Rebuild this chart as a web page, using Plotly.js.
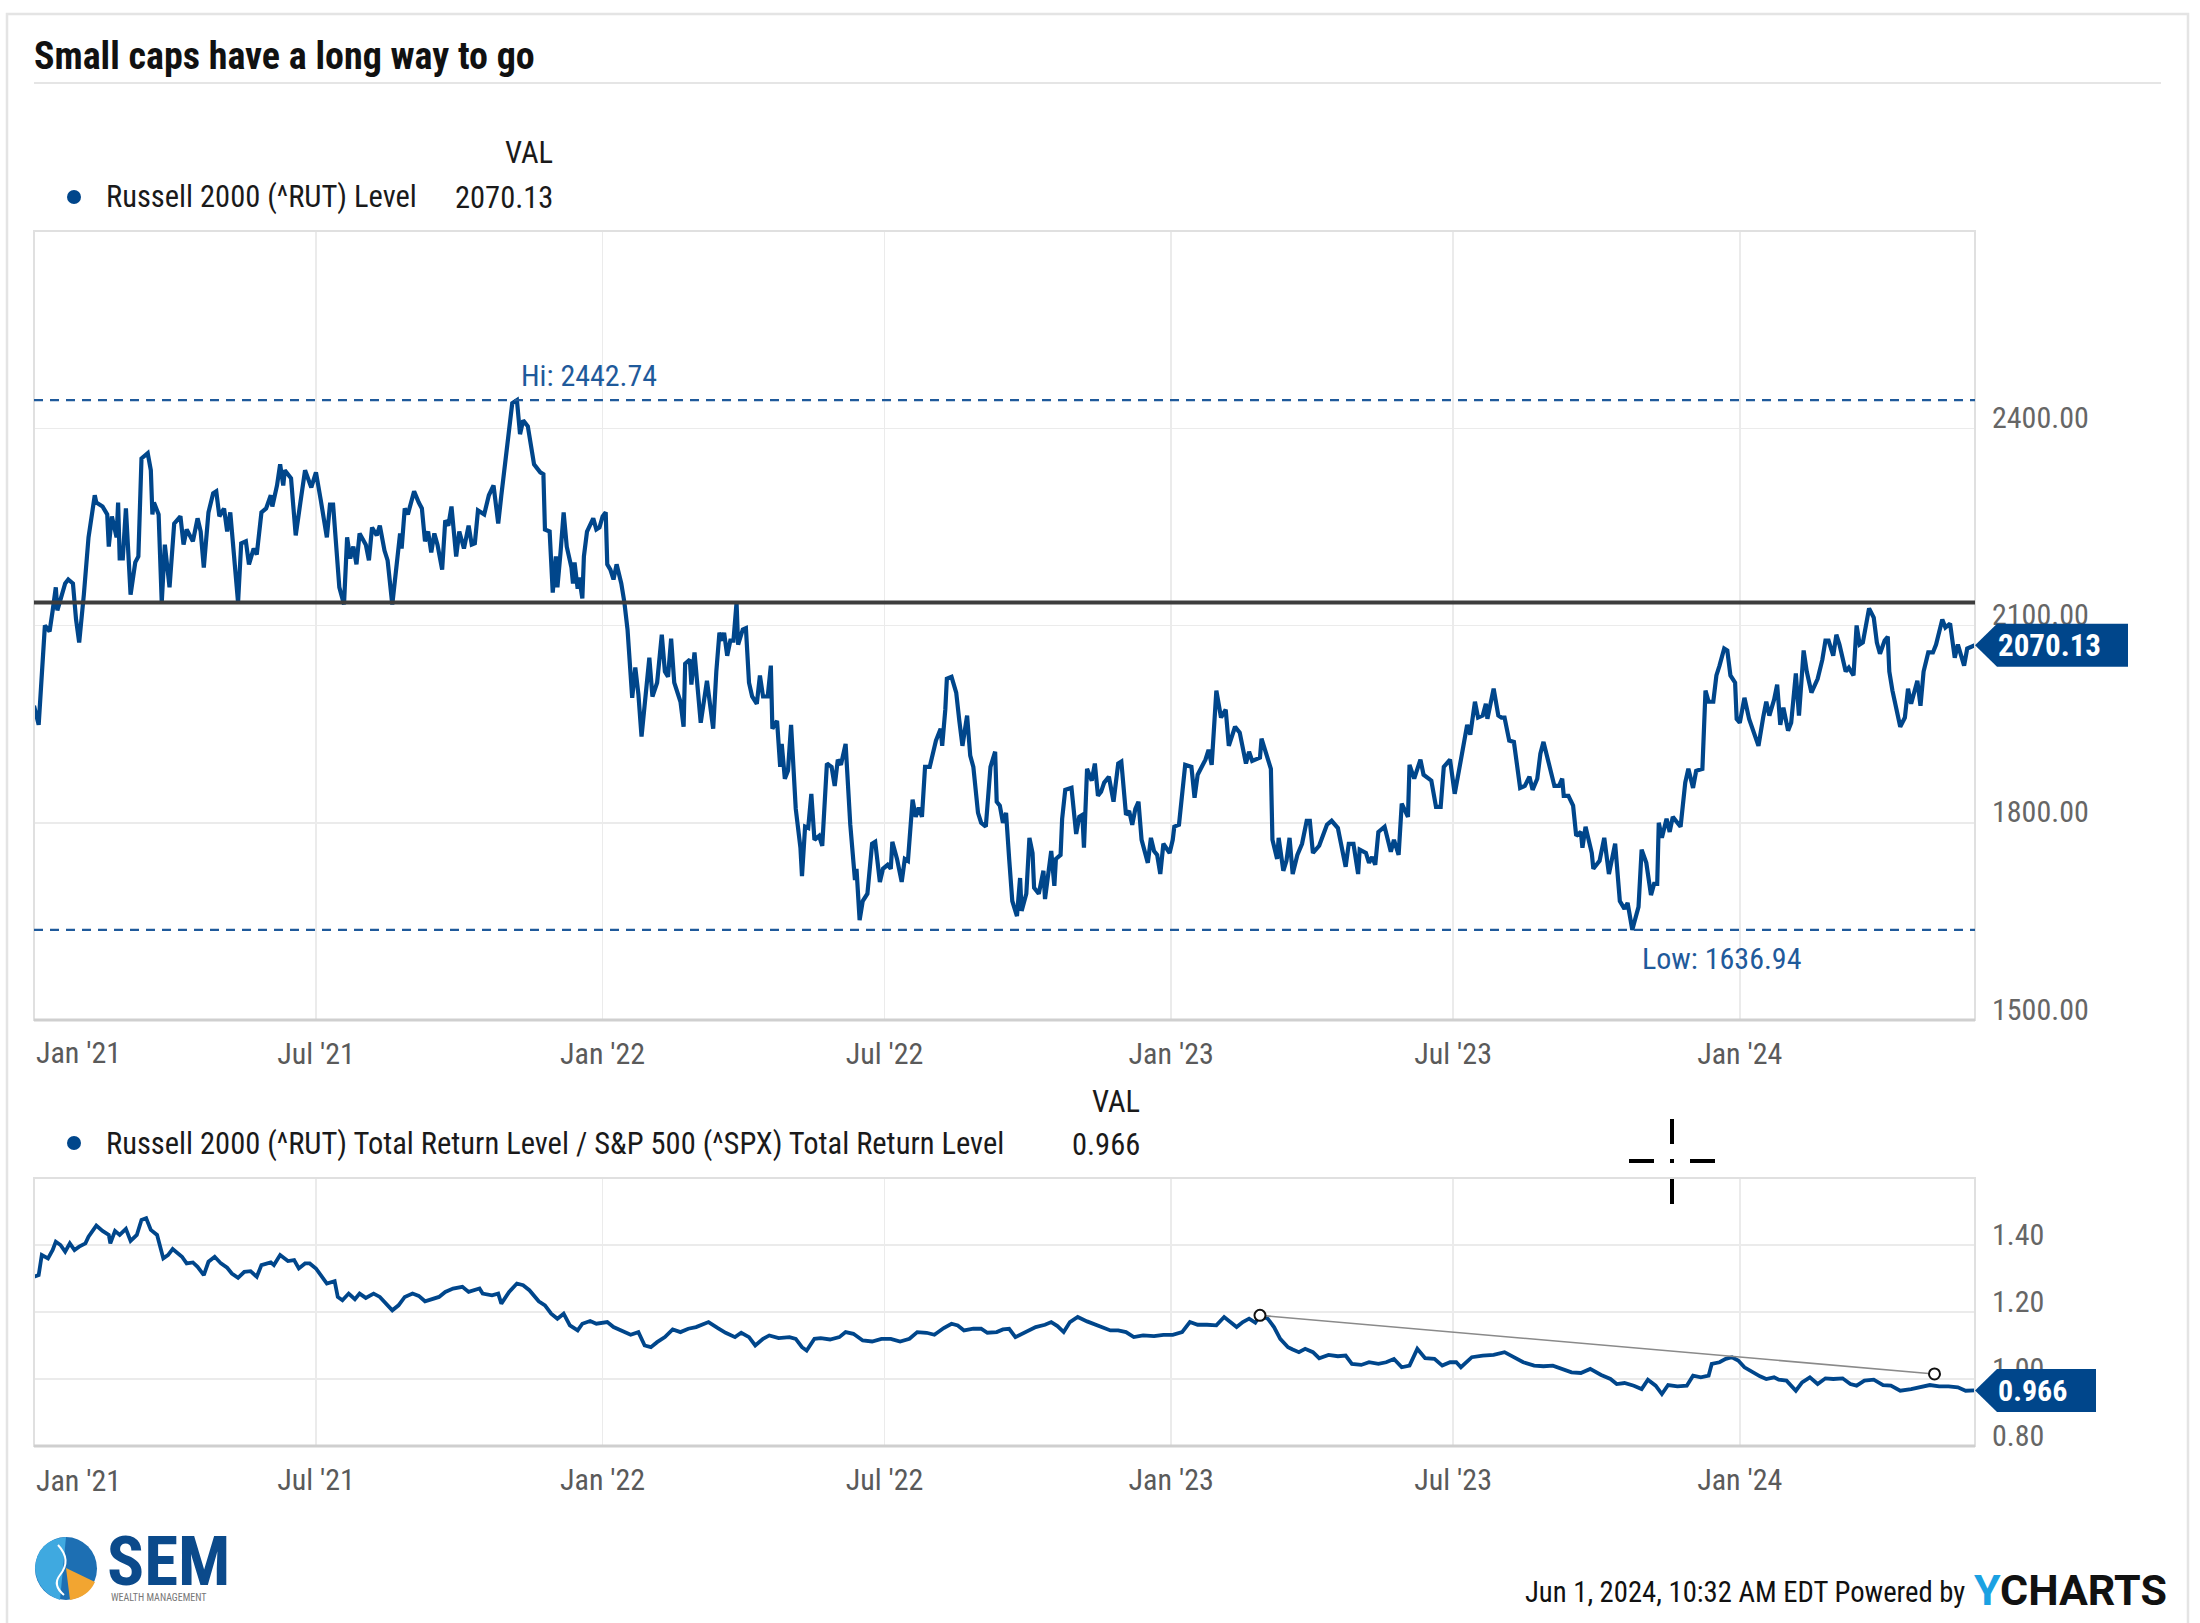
<!DOCTYPE html>
<html><head><meta charset="utf-8">
<script src="https://cdn.plot.ly/plotly-3.0.1.min.js"></script>
<style>html,body{margin:0;padding:0;background:#fff;}#chart{width:2200px;height:1623px;}</style>
</head><body><div id="chart"></div>
<script>
// ---------- DATA ----------
const rutDates = [
"2021-01-01","2021-01-04","2021-01-08","2021-01-11","2021-01-13","2021-01-15","2021-01-16","2021-01-19","2021-01-21","2021-01-23","2021-01-26","2021-01-28","2021-01-30",
"2021-02-02","2021-02-05","2021-02-09","2021-02-10","2021-02-14","2021-02-17","2021-02-18","2021-02-20","2021-02-23","2021-02-24","2021-02-25","2021-02-27",
"2021-03-01","2021-03-04","2021-03-07","2021-03-09","2021-03-11","2021-03-15","2021-03-17","2021-03-18","2021-03-19","2021-03-22","2021-03-24","2021-03-26","2021-03-29",
"2021-04-01","2021-04-05","2021-04-07","2021-04-09","2021-04-13","2021-04-16","2021-04-18","2021-04-20","2021-04-23","2021-04-26","2021-04-28","2021-04-30",
"2021-05-03","2021-05-05","2021-05-07","2021-05-12","2021-05-14","2021-05-17","2021-05-19","2021-05-22","2021-05-24","2021-05-27","2021-05-30",
"2021-06-02","2021-06-03","2021-06-06","2021-06-08","2021-06-10","2021-06-11","2021-06-15","2021-06-18","2021-06-21","2021-06-24","2021-06-28",
"2021-07-01","2021-07-04","2021-07-08","2021-07-10","2021-07-12","2021-07-16","2021-07-19","2021-07-21","2021-07-23","2021-07-25","2021-07-27","2021-07-29",
"2021-08-02","2021-08-04","2021-08-06","2021-08-09","2021-08-11","2021-08-14","2021-08-16","2021-08-19","2021-08-22","2021-08-24","2021-08-25","2021-08-27","2021-08-29",
"2021-09-02","2021-09-05","2021-09-07","2021-09-09","2021-09-11","2021-09-13","2021-09-15","2021-09-17","2021-09-20","2021-09-22","2021-09-24","2021-09-26","2021-09-29",
"2021-10-01","2021-10-04","2021-10-07","2021-10-09","2021-10-11","2021-10-13","2021-10-17","2021-10-20","2021-10-23","2021-10-26","2021-10-28","2021-10-31",
"2021-11-02","2021-11-04","2021-11-07","2021-11-09","2021-11-11","2021-11-14","2021-11-18","2021-11-22","2021-11-24","2021-11-25","2021-11-28","2021-11-30",
"2021-12-02","2021-12-03","2021-12-05","2021-12-07","2021-12-09","2021-12-12","2021-12-13","2021-12-14","2021-12-16","2021-12-17","2021-12-19","2021-12-20","2021-12-22","2021-12-24","2021-12-26","2021-12-28","2021-12-30",
"2022-01-01","2022-01-03","2022-01-04","2022-01-06","2022-01-08","2022-01-10","2022-01-13","2022-01-15","2022-01-17","2022-01-20","2022-01-22","2022-01-24","2022-01-26","2022-01-28","2022-01-31",
"2022-02-02","2022-02-05","2022-02-08","2022-02-10","2022-02-12","2022-02-14","2022-02-16","2022-02-20","2022-02-22","2022-02-23","2022-02-26","2022-02-27",
"2022-03-01","2022-03-03","2022-03-05","2022-03-09","2022-03-11","2022-03-13","2022-03-15","2022-03-17","2022-03-19","2022-03-20","2022-03-22","2022-03-24","2022-03-26","2022-03-28","2022-03-29",
"2022-04-01","2022-04-03","2022-04-05","2022-04-07","2022-04-10","2022-04-12","2022-04-14","2022-04-17","2022-04-19","2022-04-20","2022-04-23","2022-04-25","2022-04-26","2022-04-28","2022-04-30",
"2022-05-02","2022-05-05","2022-05-08","2022-05-09","2022-05-11","2022-05-13","2022-05-15","2022-05-17","2022-05-20","2022-05-22","2022-05-25","2022-05-28","2022-05-30",
"2022-06-01","2022-06-03","2022-06-06","2022-06-09","2022-06-12","2022-06-13","2022-06-15","2022-06-17","2022-06-20","2022-06-23","2022-06-25","2022-06-28","2022-06-30",
"2022-07-03","2022-07-05","2022-07-06","2022-07-09","2022-07-12","2022-07-14","2022-07-16","2022-07-19","2022-07-21","2022-07-23","2022-07-25","2022-07-27","2022-07-30",
"2022-08-01","2022-08-03","2022-08-06","2022-08-07","2022-08-09","2022-08-10","2022-08-13","2022-08-16","2022-08-18","2022-08-20","2022-08-23","2022-08-25","2022-08-27","2022-08-30",
"2022-09-01","2022-09-04","2022-09-07","2022-09-10","2022-09-11","2022-09-13","2022-09-15","2022-09-17","2022-09-19","2022-09-21","2022-09-24","2022-09-26","2022-09-27","2022-09-30",
"2022-10-02","2022-10-04","2022-10-05","2022-10-08","2022-10-11","2022-10-12","2022-10-16","2022-10-18","2022-10-19","2022-10-22","2022-10-23","2022-10-25","2022-10-29",
"2022-11-01","2022-11-03","2022-11-05","2022-11-06","2022-11-08","2022-11-11","2022-11-13","2022-11-15","2022-11-17","2022-11-19","2022-11-22","2022-11-25","2022-11-28","2022-11-30",
"2022-12-03","2022-12-05","2022-12-07","2022-12-09","2022-12-11","2022-12-13","2022-12-17","2022-12-19","2022-12-21","2022-12-23","2022-12-25","2022-12-27","2022-12-31",
"2023-01-02","2023-01-03","2023-01-06","2023-01-10","2023-01-14","2023-01-16","2023-01-18","2023-01-21","2023-01-23","2023-01-25","2023-01-27","2023-01-30",
"2023-02-02","2023-02-05","2023-02-07","2023-02-11","2023-02-14","2023-02-18","2023-02-20","2023-02-22","2023-02-27","2023-02-28",
"2023-03-04","2023-03-06","2023-03-07","2023-03-10","2023-03-11","2023-03-14","2023-03-16","2023-03-18","2023-03-20","2023-03-23","2023-03-26","2023-03-29","2023-03-31",
"2023-04-02","2023-04-06","2023-04-09","2023-04-11","2023-04-14","2023-04-18","2023-04-23","2023-04-25","2023-04-28",
"2023-05-01","2023-05-02","2023-05-06","2023-05-08","2023-05-10","2023-05-12","2023-05-14","2023-05-18","2023-05-22","2023-05-24","2023-05-27","2023-05-29",
"2023-06-02","2023-06-03","2023-06-06","2023-06-10","2023-06-12","2023-06-17","2023-06-20","2023-06-23","2023-06-25","2023-06-29",
"2023-07-02","2023-07-06","2023-07-10","2023-07-12","2023-07-15","2023-07-17","2023-07-20","2023-07-22","2023-07-23","2023-07-27","2023-07-30",
"2023-08-01","2023-08-03","2023-08-06","2023-08-09","2023-08-13","2023-08-16","2023-08-19","2023-08-21","2023-08-24","2023-08-26","2023-08-28","2023-08-31",
"2023-09-04","2023-09-07","2023-09-09","2023-09-10","2023-09-13","2023-09-16","2023-09-18","2023-09-21","2023-09-22","2023-09-24","2023-09-28","2023-09-29",
"2023-10-03","2023-10-06","2023-10-09","2023-10-11","2023-10-13","2023-10-16","2023-10-19","2023-10-21","2023-10-24","2023-10-25","2023-10-28","2023-10-30",
"2023-11-02","2023-11-05","2023-11-07","2023-11-09","2023-11-10","2023-11-12","2023-11-15","2023-11-17","2023-11-19","2023-11-24","2023-11-27","2023-11-29",
"2023-12-02","2023-12-04","2023-12-08","2023-12-10","2023-12-12","2023-12-15","2023-12-17","2023-12-19","2023-12-22","2023-12-24","2023-12-26","2023-12-29","2023-12-30",
"2024-01-01","2024-01-04","2024-01-07","2024-01-11","2024-01-13","2024-01-16","2024-01-18","2024-01-20","2024-01-23","2024-01-25","2024-01-27","2024-01-29",
"2024-02-01","2024-02-03","2024-02-06","2024-02-08","2024-02-11","2024-02-13","2024-02-16","2024-02-20","2024-02-23","2024-02-25","2024-02-27",
"2024-03-01","2024-03-03","2024-03-05","2024-03-09","2024-03-11","2024-03-14","2024-03-16","2024-03-18","2024-03-20","2024-03-24","2024-03-27","2024-03-29","2024-03-31",
"2024-04-03","2024-04-05","2024-04-06","2024-04-08","2024-04-11","2024-04-13","2024-04-16","2024-04-18","2024-04-20","2024-04-24","2024-04-26","2024-04-28",
"2024-05-01","2024-05-04","2024-05-06","2024-05-10","2024-05-12","2024-05-15","2024-05-18","2024-05-20","2024-05-24","2024-05-26","2024-05-31"
];
const rutLevels = [
1978,1949,2100,2091,2123,2158,2123,2147,2164,2170,2164,2109,2074,
2147,2234,2298,2287,2281,2269,2220,2266,2234,2287,2202,2202,
2278,2147,2196,2205,2354,2362,2336,2269,2287,2269,2135,2223,2158,
2255,2266,2223,2246,2228,2263,2243,2188,2272,2301,2304,2266,
2278,2243,2272,2135,2225,2228,2193,2217,2208,2272,2278,
2298,2281,2313,2345,2313,2336,2324,2237,2287,2336,2310,
2333,2292,2234,2284,2284,2158,2132,2234,2202,2220,2193,2240,
2223,2199,2249,2237,2252,2214,2199,2132,2199,2240,2217,2278,2269,
2304,2287,2278,2228,2243,2211,2240,2223,2185,2260,2252,2281,2205,
2243,2217,2252,2223,2225,2275,2269,2298,2313,2255,2298,2362,
2406,2438,2442.74,2391,2412,2403,2345,2333,2330,2246,2243,2150,
2205,2158,2211,2272,2220,2188,2164,2196,2156,2173,2141,2205,2243,2255,2263,2246,2249,
2266,2272,2193,2185,2170,2193,2164,2135,2094,1990,2036,1995,1931,1984,2051,
1992,2013,2086,2030,2022,2080,2013,1984,1946,2042,2048,2010,
2059,2010,1952,2016,1984,1943,2030,2089,2077,2089,2054,2077,2077,2135,2071,
2094,2096,2013,1992,1981,2024,1992,1992,2039,1943,1955,1885,1920,1867,1879,
1949,1821,1762,1719,1794,1792,1844,1774,1780,1765,1890,1885,1856,
1896,1888,1920,1797,1713,1730,1652,1681,1692,1768,1771,1710,1730,
1736,1730,1771,1745,1710,1745,1742,1835,1809,1823,1809,1885,1885,
1908,1925,1943,1917,1972,2019,2022,1998,1955,1917,1963,1902,1885,1815,
1800,1794,1885,1908,1832,1826,1800,1815,1745,1681,1658,1716,1666,1692,
1777,1754,1701,1692,1727,1684,1757,1704,1745,1751,1806,1850,1853,
1783,1809,1812,1762,1882,1864,1890,1841,1847,1861,1870,1832,1890,1893,
1812,1818,1797,1821,1832,1774,1739,1777,1757,1751,1722,1768,1754,
1774,1794,1797,1888,1885,1838,1873,1888,1896,1911,1888,2001,
1960,1972,1917,1946,1937,1890,1908,1894,1899,1928,
1899,1882,1774,1745,1777,1727,1742,1777,1722,1751,1768,1803,1803,
1754,1765,1783,1797,1803,1792,1733,1768,1768,
1722,1759,1754,1739,1748,1736,1786,1794,1756,1774,1751,1829,
1809,1888,1867,1896,1873,1864,1824,1824,1885,1896,
1844,1896,1949,1934,1984,1960,1963,1981,1958,2004,1963,
1960,1960,1925,1923,1853,1856,1870,1850,1867,1905,1923,1893,
1856,1856,1867,1841,1841,1826,1780,1786,1762,1794,1754,1730,
1742,1777,1722,1745,1768,1681,1669,1678,1636.94,1646,1672,1759,
1739,1690,1707,1707,1800,1777,1806,1786,1809,1794,1861,1882,
1853,1879,1882,2001,1984,1984,2024,2039,2065,2062,2024,2013,1958,
1952,1990,1958,1928,1917,1960,1984,1963,1987,2010,1949,1975,
1940,1952,2027,1963,2062,2030,1998,2019,2048,2077,2077,
2054,2086,2071,2030,2036,2024,2100,2071,2074,2126,2112,2074,2057,
2077,2083,2030,2001,1972,1946,1960,2004,1981,2016,1978,2030,
2059,2059,2071,2109,2097,2103,2051,2071,2039,2065,2070.13
];
const ratioDates = [
"2021-01-01","2021-01-04","2021-01-06","2021-01-10","2021-01-13","2021-01-15","2021-01-18","2021-01-21","2021-01-24","2021-01-27","2021-01-30",
"2021-02-03","2021-02-05","2021-02-10","2021-02-14","2021-02-18","2021-02-19","2021-02-22","2021-02-25",
"2021-03-01","2021-03-04","2021-03-08","2021-03-11","2021-03-14","2021-03-17","2021-03-21","2021-03-25","2021-03-28","2021-03-31",
"2021-04-03","2021-04-06","2021-04-09","2021-04-13","2021-04-16","2021-04-20","2021-04-23","2021-04-27",
"2021-05-01","2021-05-05","2021-05-08","2021-05-12","2021-05-16","2021-05-20","2021-05-24","2021-05-27",
"2021-06-02","2021-06-04","2021-06-08","2021-06-13","2021-06-17","2021-06-20","2021-06-24","2021-06-27",
"2021-07-01","2021-07-04","2021-07-08","2021-07-13","2021-07-15","2021-07-18","2021-07-22","2021-07-26","2021-07-29",
"2021-08-02","2021-08-07","2021-08-11","2021-08-15","2021-08-19","2021-08-23","2021-08-27",
"2021-09-01","2021-09-05","2021-09-09","2021-09-14","2021-09-18","2021-09-22","2021-09-27",
"2021-10-03","2021-10-07","2021-10-14","2021-10-16","2021-10-22","2021-10-26","2021-10-28",
"2021-11-02","2021-11-07","2021-11-11","2021-11-15","2021-11-21","2021-11-25","2021-11-29",
"2021-12-03","2021-12-07","2021-12-11","2021-12-16","2021-12-19","2021-12-24","2021-12-28",
"2022-01-04","2022-01-08","2022-01-13","2022-01-19","2022-01-24","2022-01-28",
"2022-02-01","2022-02-05","2022-02-10","2022-02-15","2022-02-20","2022-02-25",
"2022-03-02","2022-03-07","2022-03-10","2022-03-16","2022-03-21","2022-03-27","2022-03-31",
"2022-04-05","2022-04-09","2022-04-14","2022-04-18","2022-04-24",
"2022-05-01","2022-05-05","2022-05-09","2022-05-12","2022-05-17","2022-05-21","2022-05-27",
"2022-06-02","2022-06-06","2022-06-11","2022-06-17","2022-06-23","2022-06-29",
"2022-07-05","2022-07-11","2022-07-17","2022-07-22","2022-07-28",
"2022-08-02","2022-08-08","2022-08-13","2022-08-17","2022-08-21","2022-08-27",
"2022-09-01","2022-09-05","2022-09-11","2022-09-15","2022-09-19","2022-09-23","2022-09-27",
"2022-10-03","2022-10-06","2022-10-12","2022-10-16","2022-10-20","2022-10-24","2022-10-28",
"2022-11-02","2022-11-08","2022-11-13","2022-11-18","2022-11-23","2022-11-28",
"2022-12-03","2022-12-08","2022-12-14","2022-12-21","2022-12-27",
"2023-01-02","2023-01-08","2023-01-13","2023-01-18","2023-01-24","2023-01-30",
"2023-02-04","2023-02-08","2023-02-12","2023-02-16","2023-02-20","2023-02-24","2023-02-27",
"2023-03-04","2023-03-08","2023-03-12","2023-03-17","2023-03-20","2023-03-24","2023-03-28",
"2023-04-02","2023-04-06","2023-04-12","2023-04-18","2023-04-23","2023-04-27",
"2023-05-03","2023-05-08","2023-05-14","2023-05-19","2023-05-24","2023-05-29",
"2023-06-03","2023-06-08","2023-06-13","2023-06-19","2023-06-24","2023-06-29",
"2023-07-03","2023-07-06","2023-07-13","2023-07-20","2023-07-27",
"2023-08-03","2023-08-09","2023-08-15","2023-08-22","2023-08-28",
"2023-09-03","2023-09-09","2023-09-15","2023-09-21","2023-09-27",
"2023-10-04","2023-10-10","2023-10-14","2023-10-19","2023-10-25","2023-10-30",
"2023-11-03","2023-11-08","2023-11-12","2023-11-16","2023-11-22","2023-11-28",
"2023-12-02","2023-12-07","2023-12-12","2023-12-14","2023-12-19","2023-12-23","2023-12-27","2023-12-31",
"2024-01-04","2024-01-09","2024-01-14","2024-01-18","2024-01-23","2024-01-26","2024-01-31",
"2024-02-06","2024-02-10","2024-02-15","2024-02-20","2024-02-25",
"2024-03-01","2024-03-07","2024-03-12","2024-03-16","2024-03-21","2024-03-27",
"2024-04-02","2024-04-07","2024-04-13","2024-04-20","2024-04-26",
"2024-05-02","2024-05-08","2024-05-14","2024-05-20","2024-05-25","2024-05-31"
];
const ratioValues = [
1.305,1.310,1.370,1.360,1.385,1.410,1.400,1.380,1.405,1.385,1.395,
1.405,1.425,1.458,1.442,1.430,1.405,1.442,1.430,
1.448,1.412,1.430,1.475,1.480,1.445,1.430,1.360,1.370,1.388,
1.378,1.365,1.345,1.348,1.335,1.310,1.350,1.365,
1.345,1.332,1.315,1.302,1.320,1.322,1.305,1.340,
1.348,1.340,1.370,1.352,1.355,1.330,1.345,1.345,
1.330,1.310,1.285,1.292,1.245,1.235,1.255,1.238,1.255,
1.242,1.255,1.245,1.225,1.205,1.220,1.245,
1.255,1.248,1.232,1.240,1.245,1.260,1.270,
1.275,1.260,1.270,1.255,1.250,1.255,1.225,
1.260,1.285,1.280,1.265,1.232,1.220,1.195,
1.180,1.195,1.160,1.145,1.165,1.173,1.165,
1.170,1.155,1.145,1.132,1.140,1.100,
1.095,1.110,1.125,1.148,1.140,1.150,
1.155,1.165,1.170,1.152,1.138,1.125,1.138,
1.125,1.100,1.120,1.130,1.122,
1.125,1.120,1.095,1.085,1.120,1.122,1.118,
1.125,1.140,1.135,1.115,1.112,1.120,
1.120,1.112,1.120,1.140,1.138,
1.132,1.152,1.165,1.160,1.145,1.150,
1.150,1.138,1.140,1.148,1.150,1.125,1.135,
1.150,1.155,1.162,1.170,1.158,1.140,1.170,
1.185,1.172,1.162,1.152,1.145,1.145,
1.140,1.125,1.130,1.128,1.132,
1.132,1.140,1.170,1.162,1.162,1.160,
1.185,1.170,1.155,1.170,1.180,1.168,1.190,
1.180,1.155,1.120,1.095,1.088,1.080,1.090,
1.080,1.062,1.072,1.068,1.070,1.045,
1.042,1.050,1.045,1.050,1.060,1.035,
1.040,1.090,1.062,1.060,1.040,1.050,
1.050,1.035,1.065,1.070,1.072,
1.080,1.065,1.050,1.040,1.038,
1.040,1.030,1.020,1.018,1.030,
1.012,1.000,0.985,0.988,0.980,0.970,
0.998,0.980,0.955,0.982,0.978,0.980,
1.010,1.005,1.010,1.045,1.050,1.060,1.065,1.055,
1.035,1.020,1.008,1.000,1.005,0.998,0.995,
0.965,0.990,1.005,0.985,1.002,
1.000,1.002,0.985,0.980,0.995,0.998,
0.982,0.980,0.965,0.970,0.975,
0.982,0.978,0.978,0.975,0.965,0.966
];
const trendDates = ["2023-02-27","2024-05-05"];
const trendValues = [1.190, 1.015];
const supportLevel = 2135;
const xRange = ["2021-01-01","2024-05-31"];
const gridDates = ["2021-07-01","2022-01-01","2022-07-01","2023-01-01","2023-07-01","2024-01-01"];
const gridLabels = ["Jul '21","Jan '22","Jul '22","Jan '23","Jul '23","Jan '24"];
const firstTickDate = "2021-01-01";
const firstTickLabel = "Jan '21";
const topTicks = [1500,1800,2100,2400];
const topRange = [1500,2700];
const bottomTicks = [0.8,1.0,1.2,1.4];
const bottomRange = [0.8,1.6];
const titleText = "Small caps have a long way to go";
const topSeriesName = "Russell 2000 (^RUT) Level";
const bottomSeriesName = "Russell 2000 (^RUT) Total Return Level / S&P 500 (^SPX) Total Return Level";
const footerText = "Jun 1, 2024, 10:32 AM EDT Powered by";

// ---------- STYLE / LAYOUT ----------
const W = 2200, H = 1623;
const px = x => x / W, py = y => 1 - y / H;
const FONT = "'Roboto Condensed', 'Liberation Sans Narrow', 'DejaVu Sans Condensed', Roboto, sans-serif";
const BLUE = "#00468b", DASHBLUE = "#1f5a9b", GRID = "#ebebeb", TICKC = "#5a5a5a";
const PLOT_L = 34, PLOT_R = 1975;

let hiIdx = 0, loIdx = 0;
rutLevels.forEach((v, i) => { if (v > rutLevels[hiIdx]) hiIdx = i; if (v < rutLevels[loIdx]) loIdx = i; });
const hiVal = rutLevels[hiIdx], loVal = rutLevels[loIdx];
const lastRut = rutLevels[rutLevels.length - 1];
const lastRatio = ratioValues[ratioValues.length - 1];

const traces = [
  {x: rutDates, y: rutLevels, type: 'scatter', mode: 'lines', xaxis: 'x', yaxis: 'y',
   line: {color: BLUE, width: 4.2}, hoverinfo: 'skip'},
  {x: ratioDates, y: ratioValues, type: 'scatter', mode: 'lines', xaxis: 'x2', yaxis: 'y2',
   line: {color: BLUE, width: 3.8}, hoverinfo: 'skip'},
  {x: trendDates, y: trendValues, type: 'scatter', mode: 'lines+markers', xaxis: 'x2', yaxis: 'y2',
   line: {color: '#8a8a8a', width: 1.6},
   marker: {symbol: 'circle', size: 11, color: '#ffffff', line: {color: '#111', width: 2}}, hoverinfo: 'skip'}
];

const xCommon = {
  type: 'date', range: xRange, domain: [px(PLOT_L), px(PLOT_R)],
  tickvals: gridDates, ticktext: gridLabels, showgrid: true, gridcolor: GRID, gridwidth: 1.5,
  zeroline: false, showline: false, ticks: '', tickfont: {family: FONT, size: 30, color: TICKC},
  ticklabelstandoff: 13, fixedrange: true
};
const yCommon = {
  side: 'right', showgrid: true, gridcolor: GRID, gridwidth: 1.5, zeroline: false, showline: false,
  ticks: '', tickformat: '.2f', tickfont: {family: FONT, size: 30, color: '#666'},
  ticklabelstandoff: 16, ticklabelshift: -11, fixedrange: true
};

function border(xr, yr) {
  return [
    {type: 'rect', xref: xr + ' domain', yref: yr + ' domain', x0: 0, x1: 1, y0: 0, y1: 1,
     line: {color: '#e0e0e0', width: 2}, layer: 'above'},
    {type: 'line', xref: xr + ' domain', yref: yr + ' domain', x0: 0, x1: 1, y0: 0, y1: 0,
     line: {color: '#cfcfcf', width: 3}, layer: 'above'}
  ];
}

function badge(xr, yr, yv, w) {
  return {type: 'path', xref: xr + ' domain', yref: yr, xsizemode: 'pixel', ysizemode: 'pixel',
    xanchor: 1, yanchor: yv, layer: 'above',
    path: `M0,0 L22,21.5 L${w},21.5 L${w},-21.5 L22,-21.5 Z`,
    fillcolor: BLUE, line: {width: 0}};
}

const CX = 1672, CY = 1161;
const shapes = [
  {type: 'rect', xref: 'paper', yref: 'paper', x0: px(7), x1: px(2188), y0: py(1680), y1: py(14),
   line: {color: '#e4e4e4', width: 2.5}},
  {type: 'line', xref: 'paper', yref: 'paper', x0: px(34), x1: px(2161), y0: py(83), y1: py(83),
   line: {color: '#dcdcdc', width: 1.5}},
  ...border('x', 'y'), ...border('x2', 'y2'),
  {type: 'line', xref: 'x domain', yref: 'y', x0: 0, x1: 1, y0: hiVal, y1: hiVal,
   line: {color: DASHBLUE, width: 2.2, dash: '9px,7px'}},
  {type: 'line', xref: 'x domain', yref: 'y', x0: 0, x1: 1, y0: loVal, y1: loVal,
   line: {color: DASHBLUE, width: 2.2, dash: '9px,7px'}},
  {type: 'line', xref: 'x domain', yref: 'y', x0: 0, x1: 1, y0: supportLevel, y1: supportLevel,
   line: {color: '#3d3d3d', width: 4}},
  badge('x', 'y', lastRut, 153),
  badge('x2', 'y2', lastRatio, 121),
  {type: 'circle', xref: 'paper', yref: 'paper', x0: px(67), x1: px(81), y0: py(204), y1: py(190),
   fillcolor: BLUE, line: {width: 0}},
  {type: 'circle', xref: 'paper', yref: 'paper', x0: px(67), x1: px(81), y0: py(1150), y1: py(1136),
   fillcolor: BLUE, line: {width: 0}},
  // cursor crosshair
  {type: 'line', xref: 'paper', yref: 'paper', x0: px(CX), x1: px(CX), y0: py(CY - 42), y1: py(CY - 17), line: {color: '#000', width: 4}},
  {type: 'line', xref: 'paper', yref: 'paper', x0: px(CX), x1: px(CX), y0: py(CY + 18), y1: py(CY + 43), line: {color: '#000', width: 4}},
  {type: 'line', xref: 'paper', yref: 'paper', x0: px(CX - 43), x1: px(CX - 18), y0: py(CY), y1: py(CY), line: {color: '#000', width: 4}},
  {type: 'line', xref: 'paper', yref: 'paper', x0: px(CX + 18), x1: px(CX + 43), y0: py(CY), y1: py(CY), line: {color: '#000', width: 4}},
  {type: 'line', xref: 'paper', yref: 'paper', x0: px(CX - 2), x1: px(CX + 2), y0: py(CY), y1: py(CY), line: {color: '#000', width: 4}},
  // SEM logo
  {type: 'circle', xref: 'paper', yref: 'paper', x0: px(35), x1: px(97), y0: py(1600), y1: py(1537),
   fillcolor: '#1d6fb3', line: {width: 0}},
  {type: 'path', xref: 'paper', yref: 'paper',
   path: `M${px(66)},${py(1568)} L${px(95)},${py(1582)} Q${px(88)},${py(1597)} ${px(70)},${py(1600)} Z`,
   fillcolor: '#f2a531', line: {width: 0}},
  {type: 'path', xref: 'paper', yref: 'paper',
   path: `M${px(35)},${py(1568)} Q${px(37)},${py(1540)} ${px(66)},${py(1537)} L${px(60)},${py(1600)} Q${px(37)},${py(1592)} ${px(35)},${py(1568)} Z`,
   fillcolor: '#3fa9e0', line: {width: 0}},
  {type: 'path', xref: 'paper', yref: 'paper',
   path: `M${px(58)},${py(1545)} Q${px(72)},${py(1560)} ${px(60)},${py(1575)} Q${px(52)},${py(1585)} ${px(64)},${py(1595)}`,
   line: {color: '#ffffff', width: 2}}
];

const txt = (text, x, y, opt = {}) => Object.assign({
  text, xref: 'paper', yref: 'paper', x: px(x), y: py(y), showarrow: false,
  xanchor: 'left', yanchor: 'middle', font: {family: FONT, size: 30.5, color: '#1a1a1a'}
}, opt);

const annotations = [
  txt(`<b>${titleText}</b>`, 32, 56, {font: {family: FONT, size: 38, color: '#111'}}),
  txt('VAL', 555, 153, {xanchor: 'right'}),
  txt(topSeriesName, 104, 197),
  txt(lastRut.toFixed(2), 555, 197, {xanchor: 'right'}),
  txt('VAL', 1142, 1101, {xanchor: 'right'}),
  txt(bottomSeriesName, 104, 1144),
  txt(lastRatio.toFixed(3), 1142, 1144, {xanchor: 'right'}),
  {text: firstTickLabel, xref: 'x', yref: 'paper', x: firstTickDate, y: py(1052), showarrow: false,
   xanchor: 'left', yanchor: 'middle', font: {family: FONT, size: 30, color: TICKC}},
  {text: firstTickLabel, xref: 'x2', yref: 'paper', x: firstTickDate, y: py(1480), showarrow: false,
   xanchor: 'left', yanchor: 'middle', font: {family: FONT, size: 30, color: TICKC}},
  {text: `Hi: ${hiVal.toFixed(2)}`, xref: 'x', yref: 'y', x: rutDates[hiIdx], y: hiVal, showarrow: false,
   xanchor: 'left', yanchor: 'bottom', xshift: 2, yshift: 5, font: {family: FONT, size: 30, color: DASHBLUE}},
  {text: `Low: ${loVal.toFixed(2)}`, xref: 'x', yref: 'y', x: rutDates[loIdx], y: loVal, showarrow: false,
   xanchor: 'left', yanchor: 'top', xshift: 8, yshift: -9, font: {family: FONT, size: 30, color: DASHBLUE}},
  {text: `<b>${lastRut.toFixed(2)}</b>`, xref: 'x domain', yref: 'y', x: 1, y: lastRut, showarrow: false,
   xanchor: 'left', yanchor: 'middle', xshift: 21, font: {family: FONT, size: 31, color: '#fff'}},
  {text: `<b>${lastRatio.toFixed(3)}</b>`, xref: 'x2 domain', yref: 'y2', x: 1, y: lastRatio, showarrow: false,
   xanchor: 'left', yanchor: 'middle', xshift: 21, font: {family: FONT, size: 30, color: '#fff'}},
  txt('<b>SEM</b>', 105, 1561, {font: {family: FONT, size: 69, color: '#0b4a8b'}}),
  txt('WEALTH MANAGEMENT', 109, 1597, {font: {family: FONT, size: 10, color: '#777'}}),
  txt(footerText, 1967, 1592, {xanchor: 'right', font: {family: FONT, size: 28.7, color: '#111'}}),
  txt('<b><span style="color:#1ba1e2">Y</span>CHARTS</b>', 1972, 1590, {font: {family: 'Roboto, sans-serif', size: 43, color: '#111'}})
];

const layout = {
  width: W, height: H, margin: {l: 0, r: 0, t: 0, b: 0},
  paper_bgcolor: '#fff', plot_bgcolor: '#fff', showlegend: false,
  font: {family: FONT, size: 28, color: '#555'},
  xaxis: Object.assign({}, xCommon, {anchor: 'y'}),
  yaxis: Object.assign({}, yCommon, {anchor: 'x', domain: [py(1020), py(231)], range: topRange, tickvals: topTicks}),
  xaxis2: Object.assign({}, xCommon, {anchor: 'y2'}),
  yaxis2: Object.assign({}, yCommon, {anchor: 'x2', domain: [py(1446), py(1178)], range: bottomRange, tickvals: bottomTicks}),
  shapes, annotations
};

Plotly.newPlot('chart', traces, layout, {staticPlot: true, displayModeBar: false});
</script>
</body></html>
